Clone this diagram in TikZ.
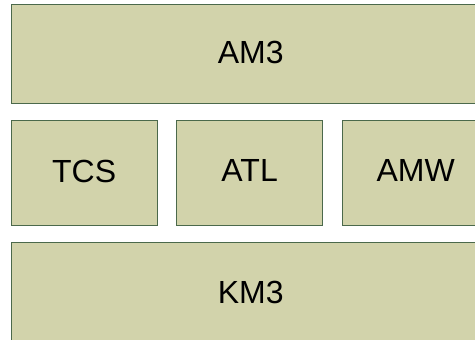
\documentclass[tikz,border=0pt]{standalone}
\usepackage{fontspec}
\setmainfont{Liberation Sans}
\definecolor{boxfill}{RGB}{210,211,171}
\definecolor{boxline}{RGB}{75,105,75}
\begin{document}
\begin{tikzpicture}[x=1pt,y=-1pt,
  layer/.style={draw=boxline,line width=1.3pt,fill=boxfill,inner sep=0pt,
    text depth=4.5pt,font=\fontsize{32}{36}\selectfont}]
\useasboundingbox (0,0) rectangle (475,340);
\clip (0,0) rectangle (475,340);
\node[layer,minimum width=479pt,minimum height=99pt,anchor=north west] (am3) at (10.5,4) {AM3};
\node[layer,minimum width=146pt,minimum height=105pt,anchor=north west] (tcs) at (10.5,120) {TCS};
\node[layer,minimum width=146pt,minimum height=105pt,anchor=north west] (atl) at (176,120) {ATL};
\node[layer,minimum width=146pt,minimum height=105pt,anchor=north west] (amw) at (342,120) {AMW};
\node[layer,minimum width=479pt,minimum height=103pt,anchor=north west] (km3) at (10.5,242) {KM3};
\end{tikzpicture}
\end{document}
